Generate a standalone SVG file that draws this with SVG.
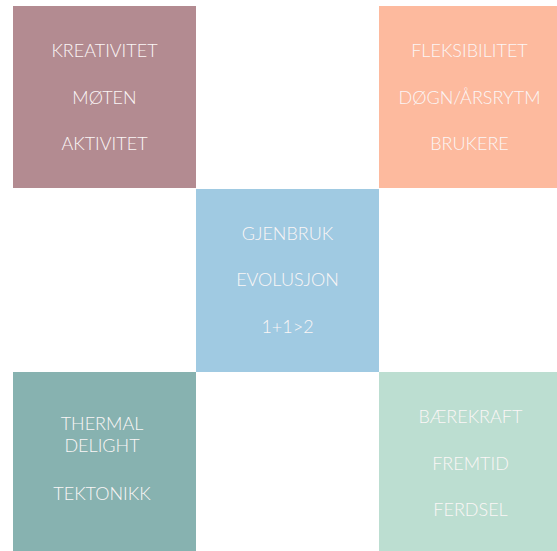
<svg xmlns="http://www.w3.org/2000/svg" width="557" height="551" viewBox="0 0 557 551">
<style>
text{font-family:Lato,"Liberation Sans",sans-serif;font-size:18px;fill:#fbf6f6;text-anchor:middle;font-weight:300}
</style>
<rect width="557" height="551" fill="#ffffff"/>
<g id="node-topleft">
<rect x="13" y="6" width="183" height="182" fill="#b38b91"/>
<text x="104.5" y="57">KREATIVITET</text>
<text x="104.5" y="103.5">MØTEN</text>
<text x="104.5" y="149.5">AKTIVITET</text>
</g>
<g id="node-topright">
<rect x="379" y="6" width="178" height="182" fill="#fdba9e"/>
<text x="469.5" y="57">FLEKSIBILITET</text>
<text x="469.5" y="103.5">DØGN/ÅRSRYTM</text>
<text x="469.5" y="149.5">BRUKERE</text>
</g>
<g id="node-center">
<rect x="196" y="189" width="183" height="183" fill="#a0cae2"/>
<text x="287.5" y="240">GJENBRUK</text>
<text x="287.5" y="286">EVOLUSJON</text>
<text x="287.5" y="332.5">1+1&gt;2</text>
</g>
<g id="node-bottomleft">
<rect x="13" y="372" width="183" height="179" fill="#87b2b0"/>
<text x="102" y="429.5">THERMAL</text>
<text x="102" y="452">DELIGHT</text>
<text x="102" y="500">TEKTONIKK</text>
</g>
<g id="node-bottomright">
<rect x="379" y="372" width="178" height="179" fill="#bcded1"/>
<text x="470.5" y="423">BÆREKRAFT</text>
<text x="470.5" y="469.5">FREMTID</text>
<text x="470.5" y="516">FERDSEL</text>
</g>
<g id="connectors"></g>
</svg>
